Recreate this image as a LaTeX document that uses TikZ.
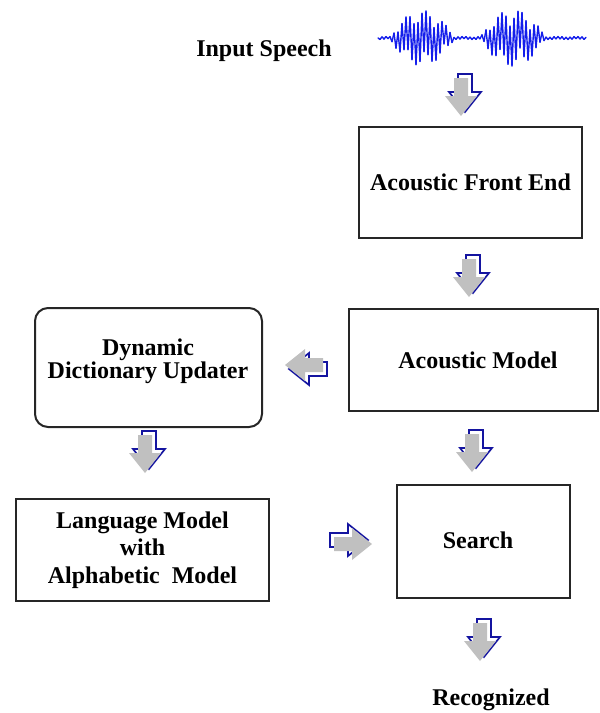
\documentclass[tikz,border=0pt]{standalone}
\usepackage{fontspec}
\setmainfont{Liberation Serif}
\begin{document}
\begin{tikzpicture}[x=0.5pt,y=0.5pt,
  box/.style={draw=black!85, line width=1pt, fill=white, inner sep=0pt},
  lbl/.style={font=\fontsize{12}{14}\selectfont\bfseries, align=center},
  wave/.style={draw=waveblue, line width=0.7pt, line cap=round, line join=round}]
\definecolor{arrowgray}{RGB}{192,192,192}
\definecolor{arrowblue}{RGB}{20,20,160}
\definecolor{waveblue}{RGB}{20,30,235}
\tikzset{
  blockarrow/.pic={
    % blue offset outline, then the grey body on top of it
    \draw[arrowblue, line width=0.85pt, line join=miter]
      (-3,22) -- (11,22) -- (11,4) -- (20,4) -- (4,-16) -- (-12,4) -- (-3,4) -- cycle;
    \fill[arrowgray]
      (-7,18) -- (7,18) -- (7,0) -- (16,0) -- (0,-20) -- (-16,0) -- (-7,0) -- cycle;
  }
}
\useasboundingbox (0,0) rectangle (600,-713);

% speech waveform
\foreach \i [remember=\yy as \yp (initially -38),
  evaluate=\i as \xx using 378+2*\i,
  evaluate=\i as \yy using {-(38+(2*mod(\i,2)-1)*(1.5
      +26*max(0,1-((\xx-422)/32)*((\xx-422)/32))
      +27*max(0,1-((\xx-513)/32)*((\xx-513)/32)))*(0.35+0.65*abs(sin(\i*71))))}]
  in {1,...,104}
  \draw[wave] ({\xx-2},\yp) -- (\xx,\yy);

\node[lbl] (input) at (264,-51) {Input Speech};

\node[box, minimum width=111.5pt, minimum height=55.5pt] (afe) at (470.5,-182.5) {};
\node[lbl] (afetext) at (afe.center) {Acoustic Front End};

\node[box, minimum width=124.5pt, minimum height=51pt] (am) at (473.5,-360) {};
\node[lbl] (amtext) at (478,-360) {Acoustic Model};

\node[box, rounded corners=6.5pt, minimum width=113.5pt, minimum height=59.5pt] (dict) at (148.5,-367.5) {};
\node[lbl, font=\fontsize{12}{11.5}\selectfont\bfseries] (dicttext) at (148,-361) {Dynamic\\Dictionary Updater};

\node[box, minimum width=126.5pt, minimum height=51pt] (lm) at (142.5,-550) {};
\node[lbl, font=\fontsize{12}{13.75}\selectfont\bfseries] (lmtext) at (lm.center) {Language Model\\with\\Alphabetic\ \ Model};

\node[box, minimum width=86.5pt, minimum height=56.5pt] (search) at (483.5,-541.5) {};
\node[lbl] (searchtext) at (478,-540) {Search};

\node[lbl] (out) at (491,-700) {Recognized};

% block arrows between the stages
\pic at (461,-96) {blockarrow};
\pic at (469,-277) {blockarrow};
\pic at (472,-452) {blockarrow};
\pic at (145,-453) {blockarrow};
\pic at (480,-641) {blockarrow};
\pic[rotate=-90] at (305,-365) {blockarrow};
\pic[rotate=90] at (352,-544) {blockarrow};
\end{tikzpicture}
\end{document}
